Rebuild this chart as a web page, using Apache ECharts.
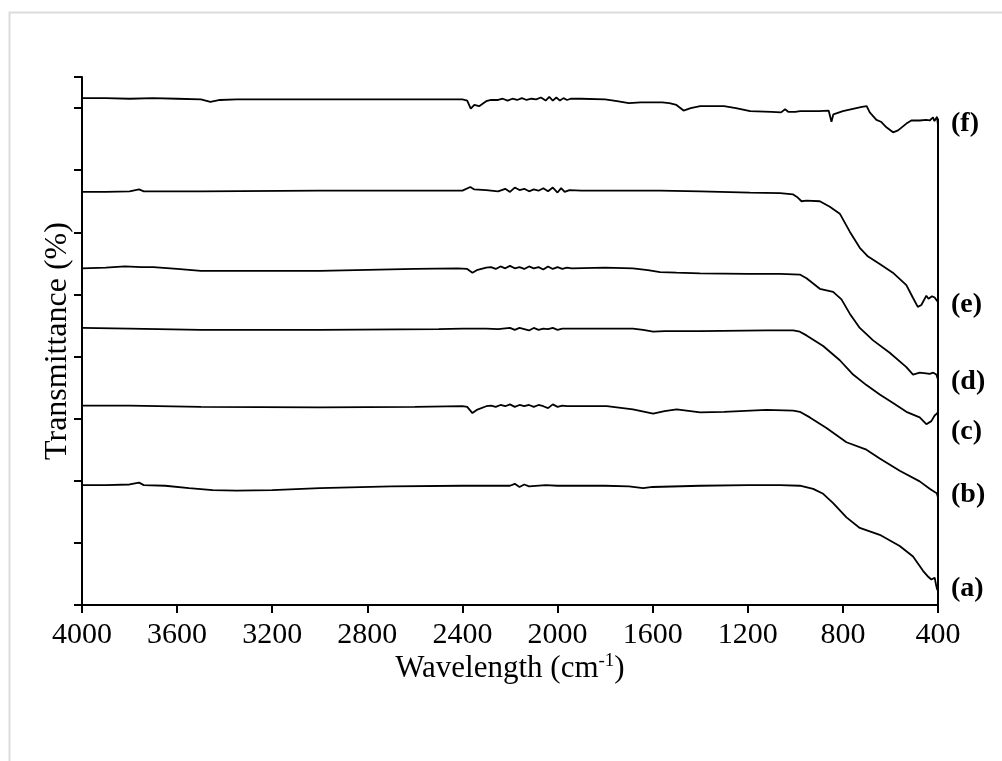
<!DOCTYPE html>
<html>
<head>
<meta charset="utf-8">
<script src="https://cdn.jsdelivr.net/npm/echarts@6/dist/echarts.min.js"></script>
<style>
html,body{margin:0;padding:0;background:#fff;}
#chart{width:1002px;height:761px;}
</style>
</head>
<body>
<div id="chart"></div>
<script>
// x tick labels (wavenumber, cm-1)
const xTicks = [4000, 3600, 3200, 2800, 2400, 2000, 1600, 1200, 800, 400];

// spectra: [wavenumber, offset transmittance]
const specA = [[4000,1.93],[3900,1.93],[3800,1.94],[3760,1.97],[3740,1.93],[3650,1.92],[3550,1.88],[3450,1.85],[3350,1.84],[3200,1.85],[3000,1.88],[2700,1.91],[2400,1.92],[2200,1.92],[2180,1.95],[2160,1.90],[2140,1.94],[2120,1.91],[2050,1.93],[2000,1.92],[1800,1.92],[1700,1.91],[1640,1.88],[1600,1.90],[1400,1.92],[1200,1.93],[1064,1.93],[981,1.92],[925,1.87],[883,1.79],[841,1.64],[785,1.41],[729,1.24],[645,1.13],[561,0.95],[505,0.78],[463,0.55],[440,0.45],[428,0.41],[414,0.44],[408,0.32],[403,0.24],[400,0.30]];

const specB = [[4000,3.21],[3800,3.21],[3500,3.19],[3000,3.18],[2600,3.19],[2400,3.20],[2380,3.19],[2358,3.09],[2340,3.14],[2300,3.20],[2280,3.21],[2260,3.19],[2240,3.22],[2220,3.20],[2200,3.23],[2180,3.19],[2160,3.22],[2140,3.20],[2120,3.22],[2100,3.19],[2080,3.22],[2060,3.20],[2040,3.17],[2020,3.23],[2000,3.19],[1980,3.21],[1960,3.20],[1793,3.20],[1683,3.15],[1598,3.08],[1550,3.12],[1499,3.15],[1400,3.10],[1300,3.11],[1121,3.14],[1009,3.13],[981,3.11],[939,3.02],[869,2.85],[785,2.62],[701,2.50],[645,2.36],[561,2.16],[477,1.99],[435,1.87],[414,1.82],[405,1.80],[400,1.73]];

const specC = [[4000,4.46],[3800,4.45],[3500,4.43],[3000,4.43],[2500,4.44],[2400,4.45],[2300,4.45],[2250,4.44],[2200,4.46],[2180,4.43],[2160,4.46],[2140,4.44],[2120,4.42],[2100,4.46],[2080,4.43],[2060,4.45],[2040,4.44],[2020,4.46],[2000,4.43],[1980,4.45],[1900,4.45],[1683,4.45],[1640,4.43],[1598,4.40],[1550,4.41],[1401,4.41],[1121,4.42],[1009,4.42],[981,4.40],[953,4.34],[883,4.17],[813,3.94],[757,3.71],[701,3.54],[645,3.39],[589,3.25],[533,3.11],[477,3.02],[449,2.91],[428,2.96],[414,3.05],[405,3.08],[400,3.11]];

const specD = [[4000,5.42],[3900,5.43],[3820,5.45],[3750,5.44],[3700,5.44],[3600,5.41],[3500,5.38],[3000,5.38],[2600,5.41],[2420,5.42],[2380,5.41],[2358,5.35],[2340,5.39],[2300,5.43],[2280,5.44],[2260,5.41],[2240,5.45],[2220,5.42],[2200,5.46],[2180,5.42],[2160,5.44],[2140,5.41],[2120,5.45],[2100,5.42],[2080,5.44],[2060,5.40],[2040,5.45],[2020,5.41],[2000,5.44],[1980,5.41],[1960,5.43],[1940,5.42],[1800,5.43],[1683,5.42],[1620,5.39],[1569,5.36],[1500,5.35],[1401,5.34],[1200,5.33],[1064,5.33],[981,5.32],[953,5.26],[897,5.09],[841,5.04],[806,4.92],[771,4.69],[729,4.46],[673,4.26],[603,4.06],[533,3.83],[505,3.71],[477,3.74],[450,3.73],[435,3.72],[420,3.74],[407,3.71],[400,3.63]];

const specE = [[4000,6.65],[3900,6.65],[3800,6.66],[3760,6.69],[3740,6.66],[3500,6.66],[3000,6.67],[2500,6.67],[2400,6.67],[2367,6.73],[2350,6.69],[2300,6.68],[2250,6.66],[2220,6.70],[2200,6.65],[2180,6.72],[2160,6.68],[2140,6.70],[2120,6.66],[2100,6.69],[2080,6.67],[2060,6.71],[2040,6.66],[2020,6.72],[2000,6.64],[1985,6.71],[1970,6.65],[1950,6.68],[1900,6.67],[1700,6.67],[1569,6.67],[1400,6.66],[1191,6.64],[1064,6.63],[1009,6.61],[993,6.57],[974,6.50],[953,6.51],[897,6.50],[855,6.41],[813,6.30],[771,6.01],[729,5.75],[694,5.61],[645,5.49],[590,5.35],[533,5.15],[506,4.95],[485,4.80],[470,4.83],[449,4.98],[440,4.93],[435,4.92],[425,4.97],[414,4.95],[406,4.92],[403,4.89],[400,4.90]];

const specF = [[4000,8.16],[3900,8.16],[3800,8.15],[3700,8.16],[3600,8.15],[3500,8.14],[3460,8.10],[3420,8.13],[3350,8.14],[3000,8.14],[2700,8.14],[2400,8.14],[2380,8.12],[2365,7.99],[2350,8.05],[2330,8.03],[2300,8.11],[2280,8.13],[2250,8.13],[2230,8.15],[2210,8.12],[2190,8.15],[2170,8.13],[2150,8.16],[2130,8.13],[2110,8.15],[2090,8.14],[2070,8.17],[2050,8.12],[2035,8.18],[2020,8.12],[2005,8.17],[1990,8.12],[1975,8.16],[1960,8.13],[1945,8.15],[1900,8.15],[1800,8.14],[1750,8.11],[1700,8.08],[1650,8.09],[1560,8.09],[1530,8.08],[1500,8.05],[1470,7.96],[1440,8.00],[1400,8.03],[1300,8.03],[1250,8.00],[1190,7.95],[1100,7.94],[1060,7.93],[1043,7.98],[1030,7.94],[1000,7.94],[980,7.95],[900,7.95],[860,7.96],[852,7.95],[848,7.78],[840,7.90],[800,7.95],[720,8.02],[700,8.03],[687,7.93],[659,7.81],[640,7.78],[617,7.69],[589,7.61],[568,7.64],[533,7.75],[512,7.80],[477,7.80],[450,7.81],[435,7.80],[421,7.85],[415,7.79],[410,7.78],[404,7.86],[400,7.72]];

// right-hand closing line of the frame
const edgeLine = [[400,0],[400,7.83]];

// curve labels and their heights
const labelNames = ['(f)','(e)','(d)','(c)','(b)','(a)'];
const labelLevels = [7.74, 4.83, 3.59, 2.79, 1.77, 0.26];

const serif = "'Liberation Serif','Times New Roman',serif";
const chart = echarts.init(document.getElementById('chart'), null, {renderer:'canvas'});

function spectrum(data){
  return {type:'line', data:data, symbol:'none', smooth:false, animation:false,
    lineStyle:{color:'#000', width:1.8}, silent:true, z:3};
}

chart.setOption({
  backgroundColor:'#fff',
  animation:false,
  graphic:[{type:'rect', shape:{x:9.5, y:12.5, width:1200, height:1000},
    style:{fill:'none', stroke:'#dcdcdc', lineWidth:2}, silent:true}],
  grid:{left:82, right:64, top:77, bottom:156, containLabel:false},
  xAxis:{type:'value', inverse:true, min:400, max:4000, interval:400,
    axisLine:{show:true, lineStyle:{color:'#000', width:2}},
    axisTick:{show:true, inside:false, length:8, lineStyle:{color:'#000', width:2}},
    axisLabel:{show:true, margin:15, color:'#000', fontFamily:serif, fontSize:30,
      formatter:function(v){return xTicks.indexOf(v)>=0 ? String(v) : '';}},
    splitLine:{show:false},
    name:'Wavelength (cm{sup|-1})', nameLocation:'middle', nameGap:47, nameMoveOverlap:false,
    nameTextStyle:{color:'#000', fontFamily:serif, fontSize:31,
      rich:{sup:{fontFamily:serif, fontSize:19, color:'#000', verticalAlign:'top', padding:[0,0,14,0]}}}
  },
  yAxis:{type:'value', min:0, max:8.5, interval:1,
    axisLine:{show:true, onZero:false, lineStyle:{color:'#000', width:2}},
    axisTick:{show:true, inside:false, length:8, lineStyle:{color:'#000', width:2}},
    axisLabel:{show:false}, splitLine:{show:false},
    name:'Transmittance (%)', nameLocation:'middle', nameGap:8,
    nameTextStyle:{color:'#000', fontFamily:serif, fontSize:32}
  },
  series:[
    spectrum(specA), spectrum(specB), spectrum(specC),
    spectrum(specD), spectrum(specE), spectrum(specF),
    {type:'line', data:edgeLine, symbol:'none', lineStyle:{color:'#000', width:2}, silent:true, z:3},
    {type:'scatter', symbolSize:0, silent:true, z:4, itemStyle:{opacity:1, color:'#000'},
      data:labelNames.map(function(n,i){return {name:n, value:[400, labelLevels[i]]};}),
      label:{show:true, position:'right', distance:13, formatter:'{b}', color:'#000', opacity:1,
        fontFamily:serif, fontSize:28, fontWeight:'bold'}}
  ]
});
</script>
</body>
</html>
